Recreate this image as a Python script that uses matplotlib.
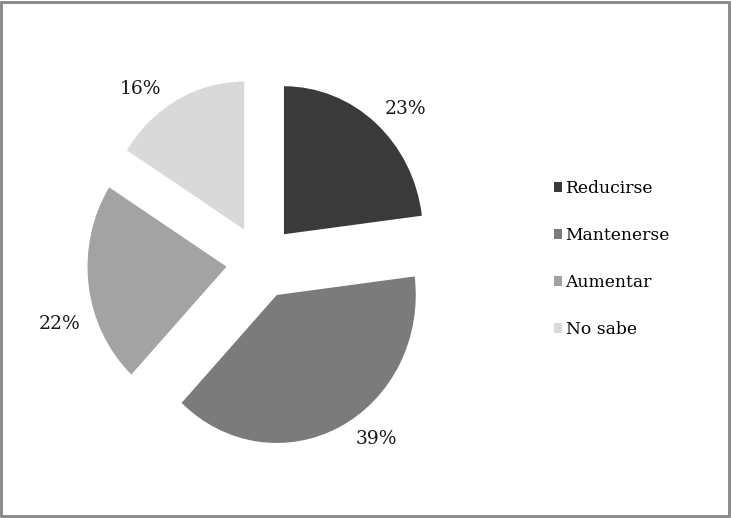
#!/usr/bin/env python3

import numpy as np
import matplotlib
matplotlib.use("Agg")
import matplotlib.pyplot as plt
from matplotlib.patches import Rectangle, Patch

labels = ["Reducirse", "Mantenerse", "Aumentar", "No sabe"]
values = [23, 39, 22, 16]
colors = ["#3a3a3a", "#7b7b7b", "#a3a3a3", "#d9d9d9"]

plt.rcParams["font.family"] = ["DejaVu Serif"]
myFontSize = 13.5

W, H = 731, 518
fig = plt.figure(figsize=(W / 100, H / 100), dpi=100)

# pie centre and radii in pixels (slightly taller than wide, as in the source)
cx, cy, rx, ry = 261, 262, 139, 148
lim = 1.7
ax = fig.add_axes([(cx - rx * lim) / W, (H - cy - ry * lim) / H,
                   2 * rx * lim / W, 2 * ry * lim / H])

wedges, texts, autotexts = ax.pie(
    values, colors=colors, startangle=90, counterclock=False,
    explode=[0.25] * len(values), radius=1,
    autopct="%d%%", pctdistance=1.28,
    textprops={"fontsize": myFontSize, "color": "#1a1a1a"},
)
ax.set_xlim(-lim, lim)
ax.set_ylim(-lim, lim)
ax.set_aspect("auto")
ax.axis("off")

# percentage labels sit on a ring round the pie, nudged a little off the slice middle
label_dist = 211  # px
label_turn = [-2, 6, 10, 6]  # degrees
for w, t, turn in zip(wedges, autotexts, label_turn):
    ang = np.deg2rad((w.theta1 + w.theta2) / 2 + turn)
    t.set_position((label_dist * np.cos(ang) / rx, label_dist * np.sin(ang) / ry))

handles = [Patch(facecolor=c, edgecolor="none") for c in colors]
fig.legend(handles, labels, loc="center left", bbox_to_anchor=(545 / W, 1 - 259 / H),
           frameon=False, fontsize=12.3, handlelength=0.5, handleheight=0.5,
           handletextpad=0.2, labelspacing=1.75, borderpad=0)

fig.patches.append(Rectangle((0.002, 0.003), 0.995, 0.993, transform=fig.transFigure,
                             fill=False, edgecolor="#858585", linewidth=2))

fig.savefig("out.png", dpi=100)
